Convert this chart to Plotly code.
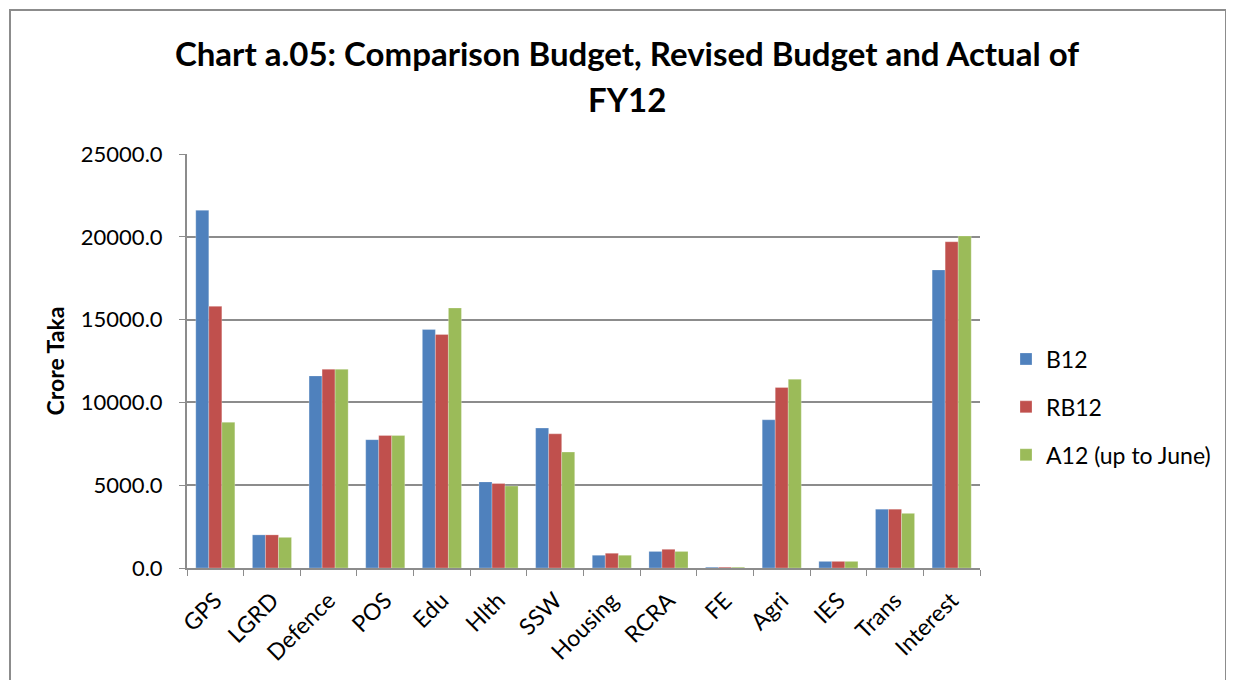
import plotly.graph_objects as go

categories = ["GPS", "LGRD", "Defence", "POS", "Edu", "Hlth", "SSW", "Housing",
              "RCRA", "FE", "Agri", "IES", "Trans", "Interest"]
b12 = [21600, 2000, 11600, 7750, 14400, 5200, 8450, 770, 1000, 50, 8950, 400, 3550, 18000]
rb12 = [15800, 2000, 12000, 8000, 14100, 5100, 8100, 890, 1130, 50, 10900, 400, 3550, 19700]
a12 = [8800, 1850, 12000, 8000, 15700, 4950, 7000, 770, 1000, 50, 11400, 400, 3300, 20050]

series_names = ["B12", "RB12", "A12 (up to June)"]
colors = ["#4F81BD", "#C0504D", "#9BBB59"]

font_main = "Lato, Open Sans, sans-serif"

# page body has an 8px offset; plot area is placed to match the reference on screen
L, T = 179, 146
R_EDGE, B_EDGE = 972, 560
W, H = 1234, 680
pw, ph = R_EDGE - L, B_EDGE - T

fig = go.Figure()
for name, vals, col in zip(series_names, [b12, rb12, a12], colors):
    fig.add_trace(go.Bar(
        x=categories, y=vals, name=name, legendgroup=name,
        marker=dict(color=col, line=dict(color="rgba(255,255,255,0.5)", width=0.5)),
    ))

fig.update_layout(
    width=W, height=H,
    margin=dict(l=L, r=W - R_EDGE, t=T, b=H - B_EDGE),
    paper_bgcolor="white", plot_bgcolor="white",
    barmode="group", bargap=0.31, bargroupgap=0,
    font=dict(family=font_main, size=20, color="black"),
    title=dict(
        text="<b>Chart a.05: Comparison Budget, Revised Budget and Actual of</b>",
        x=619 / W, xanchor="center", y=1 - 46 / H, yanchor="middle",
        font=dict(family=font_main, size=33, color="black"),
    ),
    legend=dict(
        x=(998 - L) / pw, xanchor="left", y=(B_EDGE - 399) / ph, yanchor="middle",
        font=dict(family=font_main, size=23),
        tracegroupgap=15, traceorder="grouped",
        bgcolor="rgba(0,0,0,0)",
    ),
    showlegend=True,
)

fig.add_annotation(text="<b>FY12</b>", xref="paper", yref="paper",
                   x=(619 - L) / pw, y=(B_EDGE - 91) / ph, xanchor="center", yanchor="middle",
                   showarrow=False, font=dict(family=font_main, size=33, color="black"))

fig.update_yaxes(
    range=[0, 25000], dtick=5000, tickformat=".1f",
    showgrid=True, gridcolor="#8C8C8C", gridwidth=2,
    showline=True, linecolor="#8C8C8C", linewidth=2,
    ticks="outside", ticklen=6, tickcolor="#8C8C8C",
    tickfont=dict(family=font_main, size=22), ticklabelstandoff=12,
    title=dict(text="<b>Crore Taka</b>", font=dict(family=font_main, size=23), standoff=10),
    zeroline=False, automargin=False,
)
fig.update_xaxes(
    tickangle=-45, tickfont=dict(family=font_main, size=23), ticklabelstandoff=8,
    showline=True, linecolor="#8C8C8C", linewidth=2,
    ticks="outside", ticklen=6, tickcolor="#8C8C8C",
    tickson="boundaries", automargin=False,
)

fig.add_shape(type="rect", xref="paper", yref="paper",
              x0=(2 - L) / pw, x1=(1218 - L) / pw,
              y0=-0.6, y1=(B_EDGE - 2) / ph,
              line=dict(color="#8C8C8C", width=2), fillcolor="rgba(0,0,0,0)", layer="below")

fig.write_html("out.html")
